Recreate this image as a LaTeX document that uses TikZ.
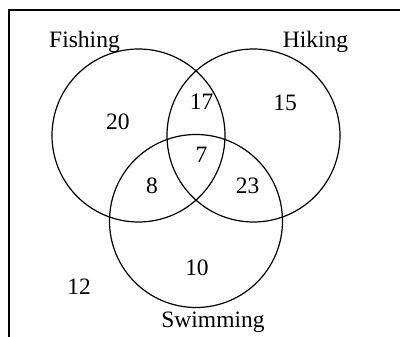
\documentclass[tikz,border=0pt]{standalone}
\usepackage{fontspec}
\setmainfont{Liberation Serif}
\begin{document}
\begin{tikzpicture}[x=1pt,y=-1pt,
  setcircle/.style={draw=black,line width=1.2pt,circle,minimum size=173pt,inner sep=0pt},
  lbl/.style={font=\fontsize{23.5}{28}\selectfont,inner sep=0pt,anchor=center},
  frameline/.style={line width=1.3pt,draw=black}]
\useasboundingbox (0,0) rectangle (400,337);
\coordinate (fbl) at (9,337);
\coordinate (ftl) at (9,10);
\coordinate (ftr) at (400,10);
\draw[frameline] (fbl) -- (ftl) -- (ftr);
\node[setcircle] (fish) at (138.5,135.5) {};
\node[setcircle] (hike) at (253.5,135.5) {};
\node[setcircle] (swim) at (196,221) {};
\node[lbl] (lf) at (84.5,42) {Fishing};
\node[lbl] (lh) at (315.5,42) {Hiking};
\node[lbl] (ls) at (213,322) {Swimming};
\node[lbl] (n20) at (118,122) {20};
\node[lbl] (n17) at (201.5,102) {17};
\node[lbl] (n15) at (285,103) {15};
\node[lbl] (n7) at (201.5,155) {7};
\node[lbl] (n8) at (152,186) {8};
\node[lbl] (n23) at (247.5,186) {23};
\node[lbl] (n10) at (197,268) {10};
\node[lbl] (n12) at (79,287) {12};
\end{tikzpicture}
\end{document}
